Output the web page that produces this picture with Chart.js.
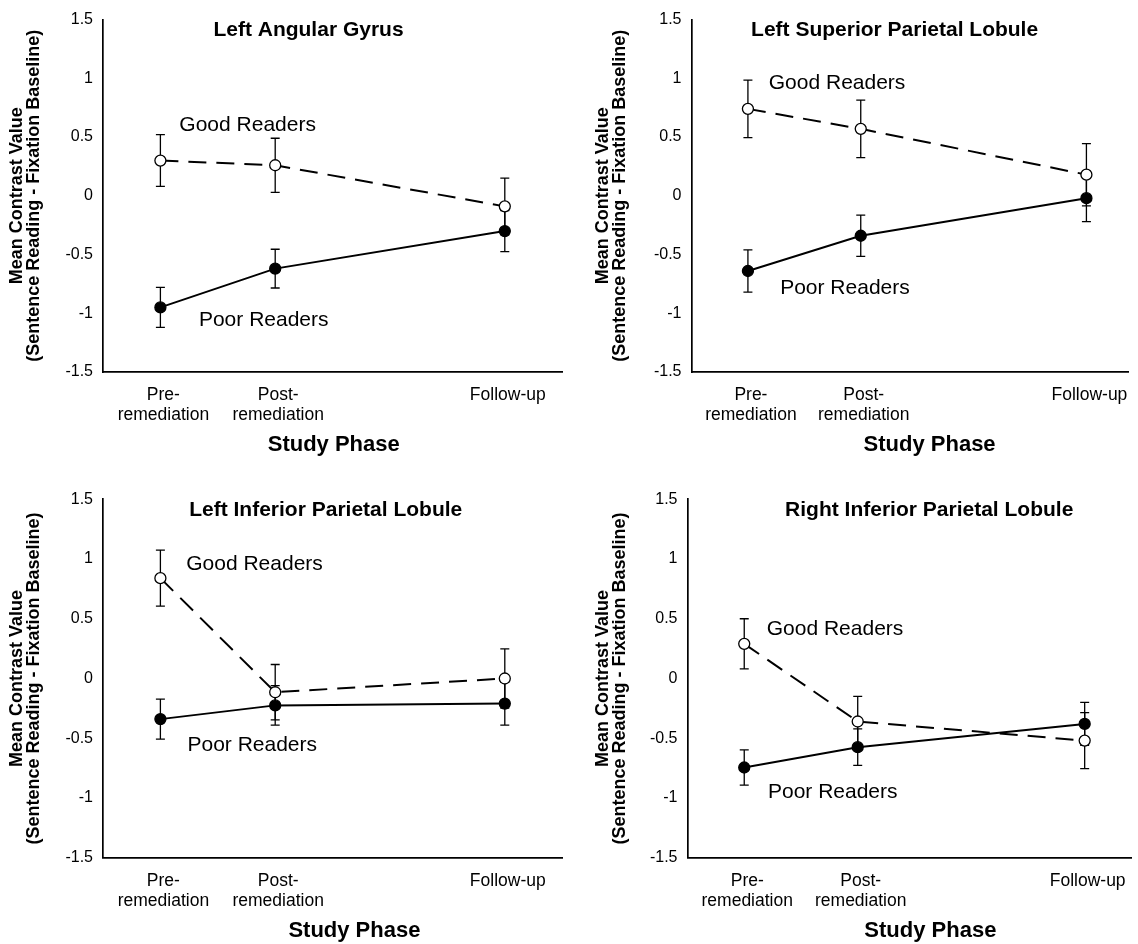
<!DOCTYPE html>
<html>
<head>
<meta charset="utf-8">
<script src="https://cdn.jsdelivr.net/npm/chart.js@4.4.1/dist/chart.umd.min.js"></script>
<style>
  html, body { margin: 0; padding: 0; background: #fff; overflow: hidden; }
  canvas { position: absolute; }
</style>
</head>
<body>
<canvas id="angular"></canvas>
<canvas id="superior"></canvas>
<canvas id="leftInferior"></canvas>
<canvas id="rightInferior"></canvas>
<script>
// study phases (x positions follow the original spacing of the time points)
const phaseX = [1, 2, 4];
const phaseLabels = [['Pre-', 'remediation'], ['Post-', 'remediation'], 'Follow-up'];

// Left Angular Gyrus
const goodAngular = [0.30, 0.26, -0.09];
const goodAngularErr = [0.22, 0.23, 0.24];
const poorAngular = [-0.95, -0.62, -0.30];
const poorAngularErr = [0.17, 0.165, 0.175];

// Left Superior Parietal Lobule
const goodSuperior = [0.74, 0.57, 0.18];
const goodSuperiorErr = [0.245, 0.245, 0.265];
const poorSuperior = [-0.64, -0.34, -0.02];
const poorSuperiorErr = [0.18, 0.175, 0.20];

// Left Inferior Parietal Lobule
const goodLeftInf = [0.84, -0.115, 0.0];
const goodLeftInfErr = [0.235, 0.232, 0.248];
const poorLeftInf = [-0.34, -0.225, -0.21];
const poorLeftInfErr = [0.167, 0.165, 0.18];

// Right Inferior Parietal Lobule
const goodRightInf = [0.29, -0.36, -0.52];
const goodRightInfErr = [0.21, 0.21, 0.234];
const poorRightInf = [-0.745, -0.575, -0.38];
const poorRightInfErr = [0.148, 0.153, 0.18];

const FONT = '"Liberation Sans", Arial, Helvetica, sans-serif';

// draws error bars under the markers, and the panel texts on top
const panelText = {
    id: 'panelText',
    beforeDatasetsDraw(chart) {
        const ctx = chart.ctx;
        const x = chart.scales.x, y = chart.scales.y;
        ctx.save();
        ctx.strokeStyle = '#000';
        ctx.lineWidth = 1.3;
        chart.data.datasets.forEach(ds => {
            ds.data.forEach((pt, i) => {
                const err = ds.errors[i];
                const px = x.getPixelForValue(pt.x);
                const top = y.getPixelForValue(pt.y + err);
                const bot = y.getPixelForValue(pt.y - err);
                ctx.beginPath();
                ctx.moveTo(px, top); ctx.lineTo(px, bot);
                ctx.moveTo(px - 4.5, top); ctx.lineTo(px + 4.5, top);
                ctx.moveTo(px - 4.5, bot); ctx.lineTo(px + 4.5, bot);
                ctx.stroke();
            });
        });
        ctx.restore();
    },
    afterDatasetsDraw(chart, args, opts) {
        const ctx = chart.ctx;
        const x = chart.scales.x, y = chart.scales.y;
        ctx.save();
        ctx.fillStyle = '#000';
        ctx.textAlign = 'center';
        ctx.textBaseline = 'middle';
        ctx.font = 'bold 21px ' + FONT;
        ctx.fillText(opts.title, x.getPixelForValue(opts.titleAt[0]), y.getPixelForValue(opts.titleAt[1]));
        ctx.font = '21px ' + FONT;
        ctx.fillText('Good Readers', x.getPixelForValue(opts.goodAt[0]), y.getPixelForValue(opts.goodAt[1]));
        ctx.fillText('Poor Readers', x.getPixelForValue(opts.poorAt[0]), y.getPixelForValue(opts.poorAt[1]));
        ctx.font = 'bold 22px ' + FONT;
        ctx.fillText('Study Phase', x.getPixelForValue(opts.studyAt), y.getPixelForValue(-1.5) + 73);
        ctx.restore();
    }
};

const panels = [
    { id: 'angular', title: 'Left Angular Gyrus', good: goodAngular, goodErr: goodAngularErr, poor: poorAngular, poorErr: poorAngularErr,
      left: 0, top: 0, w: 569, h: 470, yWidth: 103, padTop: 14, xHeight: 98, padRight: 5.5, xMax: 4.5, yTitlePad: 8.5,
      titleAt: [2.29, 1.41], goodAt: [1.76, 0.60], poorAt: [1.90, -1.056], studyAt: 2.51 },
    { id: 'superior', title: 'Left Superior Parietal Lobule', good: goodSuperior, goodErr: goodSuperiorErr, poor: poorSuperior, poorErr: poorSuperiorErr,
      left: 570, top: 0, w: 568, h: 470, yWidth: 121.5, padTop: 14, xHeight: 98, padRight: 0, xMax: 4.37, yTitlePad: 24.5,
      titleAt: [2.30, 1.41], goodAt: [1.79, 0.956], poorAt: [1.86, -0.788], studyAt: 2.61 },
    { id: 'leftInferior', title: 'Left Inferior Parietal Lobule', good: goodLeftInf, goodErr: goodLeftInfErr, poor: poorLeftInf, poorErr: poorLeftInfErr,
      left: 0, top: 470, w: 569, h: 474, yWidth: 103, padTop: 29.3, xHeight: 86.3, padRight: 5.5, xMax: 4.5, yTitlePad: 8.5,
      titleAt: [2.44, 1.41], goodAt: [1.82, 0.954], poorAt: [1.80, -0.561], studyAt: 2.69 },
    { id: 'rightInferior', title: 'Right Inferior Parietal Lobule', good: goodRightInf, goodErr: goodRightInfErr, poor: poorRightInf, poorErr: poorRightInfErr,
      left: 570, top: 470, w: 568, h: 474, yWidth: 117.5, padTop: 29.3, xHeight: 86.3, padRight: 0, xMax: 4.41, yTitlePad: 24.5,
      titleAt: [2.63, 1.41], goodAt: [1.80, 0.41], poorAt: [1.78, -0.951], studyAt: 2.64 }
];

const toPoints = values => values.map((v, i) => ({ x: phaseX[i], y: v }));

panels.forEach(p => {
    const canvas = document.getElementById(p.id);
    canvas.width = p.w;
    canvas.height = p.h;
    canvas.style.left = p.left + 'px';
    canvas.style.top = p.top + 'px';

    new Chart(canvas, {
        type: 'line',
        data: {
            datasets: [
                {
                    label: 'Good Readers',
                    data: toPoints(p.good),
                    errors: p.goodErr,
                    borderColor: '#000',
                    borderWidth: 2,
                    borderDash: [18, 10],
                    pointRadius: 5.5,
                    pointBackgroundColor: '#fff',
                    pointBorderColor: '#000',
                    pointBorderWidth: 1.3,
                    tension: 0
                },
                {
                    label: 'Poor Readers',
                    data: toPoints(p.poor),
                    errors: p.poorErr,
                    borderColor: '#000',
                    borderWidth: 2,
                    pointRadius: 5.5,
                    pointBackgroundColor: '#000',
                    pointBorderColor: '#000',
                    pointBorderWidth: 1.3,
                    tension: 0
                }
            ]
        },
        options: {
            responsive: false,
            animation: false,
            devicePixelRatio: 1,
            layout: { padding: { top: p.padTop, left: 0, right: p.padRight, bottom: 0 } },
            plugins: {
                legend: { display: false },
                tooltip: { enabled: false },
                panelText: { title: p.title, titleAt: p.titleAt, goodAt: p.goodAt, poorAt: p.poorAt, studyAt: p.studyAt }
            },
            scales: {
                x: {
                    type: 'linear',
                    min: 0.5,
                    max: p.xMax,
                    afterFit: scale => { scale.height = p.xHeight; },
                    afterBuildTicks: scale => { scale.ticks = phaseX.map(v => ({ value: v })); },
                    grid: { display: false, drawTicks: false },
                    border: { display: true, color: '#000', width: 1.7 },
                    ticks: {
                        color: '#000',
                        padding: 13,
                        labelOffset: 3,
                        maxRotation: 0,
                        autoSkip: false,
                        font: { family: FONT, size: 17.5, lineHeight: 1.143 },
                        callback: value => phaseLabels[phaseX.indexOf(value)]
                    }
                },
                y: {
                    min: -1.5,
                    max: 1.5,
                    afterFit: scale => { scale.width = p.yWidth; },
                    grid: { display: false, drawTicks: false },
                    border: { display: true, color: '#000', width: 1.7 },
                    ticks: {
                        stepSize: 0.5,
                        color: '#000',
                        padding: 10,
                        font: { family: FONT, size: 16 },
                        callback: value => String(value)
                    },
                    title: {
                        display: true,
                        text: ['Mean Contrast Value', '(Sentence Reading - Fixation Baseline)'],
                        color: '#000',
                        padding: { top: p.yTitlePad, bottom: 0 },
                        font: { family: FONT, size: 18, weight: 'bold', lineHeight: 0.944 }
                    }
                }
            }
        },
        plugins: [panelText]
    });
});
</script>
</body>
</html>
